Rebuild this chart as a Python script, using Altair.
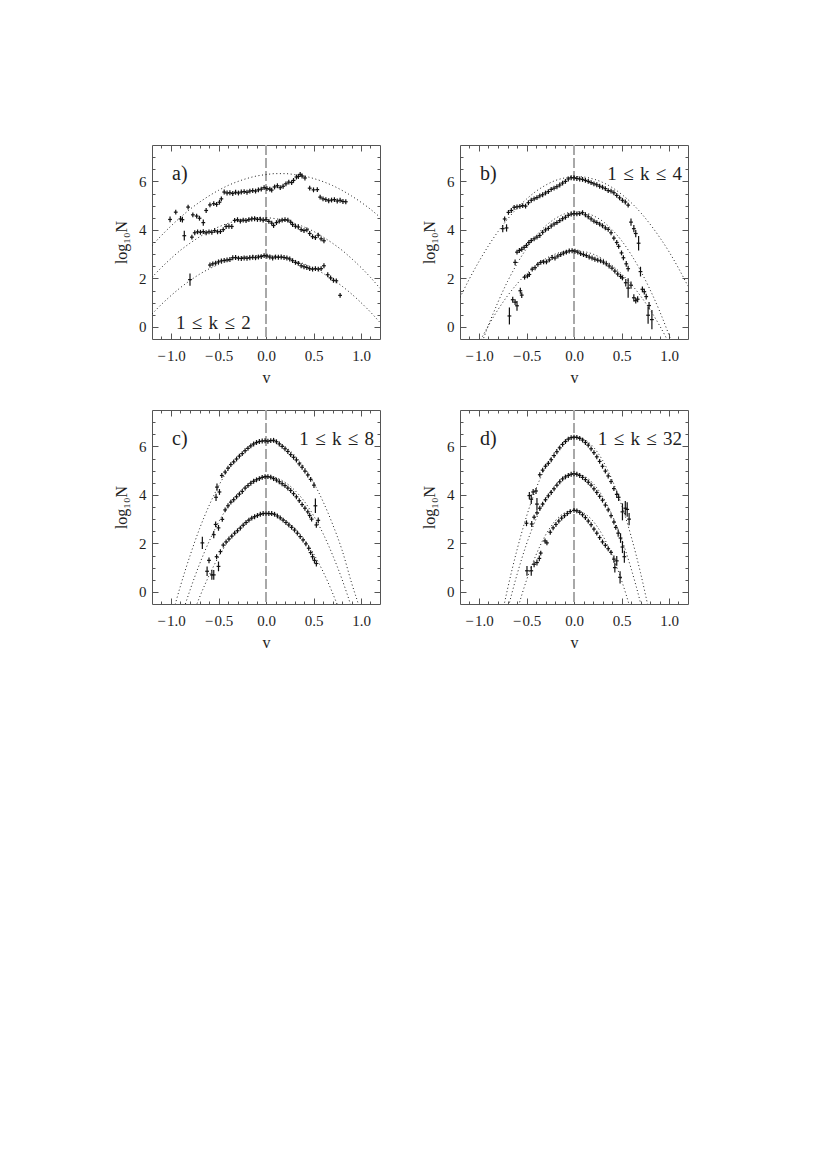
import altair as alt
import pandas as pd

# ---------------- axis ticks / labels ----------------
X_MAJOR = [-1.0, -0.5, 0.0, 0.5, 1.0]
X_MINOR = [-1.1, -0.9, -0.8, -0.7, -0.6, -0.4, -0.3, -0.2, -0.1,
           0.1, 0.2, 0.3, 0.4, 0.6, 0.7, 0.8, 0.9, 1.1]
Y_MAJOR = [0, 2, 4, 6]
Y_MINOR = [0.5, 1, 1.5, 2.5, 3, 3.5, 4.5, 5, 5.5, 6.5, 7]
ZERO_V = [0.0]

LETTERS = ["a)", "b)", "c)", "d)"]
KRANGES = ["1\u2004\u2264\u2004k\u2004\u2264\u20042",
           "1\u2004\u2264\u2004k\u2004\u2264\u20044",
           "1\u2004\u2264\u2004k\u2004\u2264\u20048",
           "1\u2004\u2264\u2004k\u2004\u2264\u200432"]

# ---------------- data points (v, log10N, error) ----------------
A_TOP = [(-1.01, 4.43, 0.12), (-0.95, 4.73), (-0.90, 4.45, 0.12), (-0.88, 4.42, 0.12),
         (-0.82, 4.94), (-0.77, 4.62), (-0.73, 4.57), (-0.70, 4.48), (-0.66, 4.30, 0.13),
         (-0.63, 4.80), (-0.59, 5.03), (-0.55, 5.08), (-0.52, 5.05), (-0.49, 5.14),
         (-0.47, 5.28), (-0.44, 5.56), (-0.41, 5.52), (-0.38, 5.53), (-0.35, 5.50),
         (-0.32, 5.55), (-0.29, 5.52), (-0.26, 5.56), (-0.23, 5.58), (-0.20, 5.55),
         (-0.17, 5.60), (-0.14, 5.62), (-0.11, 5.60), (-0.08, 5.65), (-0.05, 5.68),
         (-0.02, 5.74), (0.01, 5.70), (0.04, 5.68), (0.06, 5.64), (0.09, 5.77),
         (0.12, 5.82), (0.15, 5.74), (0.18, 5.80), (0.21, 5.90), (0.24, 5.97),
         (0.27, 5.95), (0.29, 6.04), (0.32, 6.18), (0.34, 6.20), (0.36, 6.29),
         (0.38, 6.22), (0.41, 6.14), (0.46, 5.72), (0.50, 5.65), (0.54, 5.66),
         (0.57, 5.35), (0.60, 5.28), (0.63, 5.25), (0.66, 5.20), (0.69, 5.23),
         (0.72, 5.25), (0.75, 5.19), (0.78, 5.22), (0.81, 5.17), (0.84, 5.16)]
A_MID = [(-0.86, 3.76, 0.2), (-0.78, 3.70), (-0.75, 3.88), (-0.72, 3.92), (-0.69, 3.90),
         (-0.66, 3.93), (-0.63, 3.88), (-0.60, 3.92), (-0.57, 3.90), (-0.54, 3.97),
         (-0.51, 3.92), (-0.48, 3.93), (-0.45, 4.01), (-0.42, 4.14), (-0.39, 4.15),
         (-0.36, 4.14), (-0.33, 4.39), (-0.30, 4.42), (-0.27, 4.36), (-0.24, 4.40),
         (-0.21, 4.38), (-0.18, 4.42), (-0.15, 4.45), (-0.12, 4.46), (-0.09, 4.43),
         (-0.06, 4.44), (-0.03, 4.40), (0.00, 4.42), (0.03, 4.35), (0.06, 4.28),
         (0.08, 4.18), (0.11, 4.30), (0.14, 4.36), (0.17, 4.40), (0.20, 4.42),
         (0.23, 4.40), (0.26, 4.32), (0.28, 4.22), (0.31, 4.15), (0.34, 4.12),
         (0.37, 4.01), (0.40, 3.97), (0.43, 4.00), (0.46, 3.85), (0.49, 3.72),
         (0.52, 3.68), (0.55, 3.78), (0.58, 3.63), (0.61, 3.55)]
A_BOT = [(-0.80, 1.95, 0.25), (-0.59, 2.55), (-0.56, 2.60), (-0.53, 2.63), (-0.50, 2.68),
         (-0.47, 2.72), (-0.44, 2.74), (-0.41, 2.76), (-0.38, 2.78), (-0.35, 2.85),
         (-0.32, 2.86), (-0.29, 2.83), (-0.26, 2.82), (-0.23, 2.84), (-0.20, 2.83),
         (-0.17, 2.85), (-0.14, 2.87), (-0.11, 2.85), (-0.08, 2.88), (-0.05, 2.90),
         (-0.02, 2.94), (0.01, 2.92), (0.04, 2.88), (0.07, 2.84), (0.10, 2.88),
         (0.13, 2.87), (0.16, 2.88), (0.19, 2.86), (0.22, 2.84), (0.25, 2.80),
         (0.28, 2.73), (0.31, 2.66), (0.34, 2.62), (0.37, 2.52), (0.40, 2.48),
         (0.43, 2.45), (0.46, 2.40), (0.49, 2.38), (0.52, 2.40), (0.55, 2.38),
         (0.58, 2.40), (0.61, 2.52), (0.65, 2.15), (0.68, 2.02), (0.71, 1.92),
         (0.74, 1.90), (0.78, 1.30)]

B_TOP = [(-0.75, 4.05, 0.15), (-0.71, 4.08, 0.15), (-0.73, 4.45), (-0.69, 4.72), (-0.66, 4.80),
         (-0.63, 4.93), (-0.60, 4.95), (-0.57, 4.97), (-0.54, 5.00), (-0.51, 4.98),
         (-0.48, 5.12), (-0.45, 5.22), (-0.42, 5.28), (-0.39, 5.33), (-0.36, 5.40),
         (-0.33, 5.45), (-0.30, 5.52), (-0.27, 5.58), (-0.24, 5.67), (-0.21, 5.72),
         (-0.18, 5.78), (-0.15, 5.85), (-0.12, 5.93), (-0.09, 6.00), (-0.06, 6.10),
         (-0.03, 6.15), (0.00, 6.15), (0.03, 6.12), (0.06, 6.10), (0.09, 6.08),
         (0.12, 6.04), (0.15, 6.00), (0.18, 5.95), (0.21, 5.90), (0.24, 5.86),
         (0.27, 5.80), (0.30, 5.76), (0.33, 5.70), (0.36, 5.62), (0.39, 5.60),
         (0.42, 5.53), (0.45, 5.42), (0.48, 5.32), (0.51, 5.22), (0.54, 5.15),
         (0.57, 5.02), (0.60, 4.32, 0.15), (0.63, 4.05, 0.15), (0.65, 3.85, 0.15),
         (0.68, 3.45, 0.3)]
B_MID = [(-0.62, 2.66, 0.12), (-0.60, 3.08), (-0.575, 3.15), (-0.55, 3.20), (-0.525, 3.28),
         (-0.50, 3.36), (-0.475, 3.48), (-0.45, 3.56), (-0.42, 3.63), (-0.39, 3.70),
         (-0.36, 3.77), (-0.33, 3.90), (-0.30, 4.00), (-0.27, 4.06), (-0.24, 4.16),
         (-0.21, 4.24), (-0.18, 4.30), (-0.15, 4.38), (-0.12, 4.46), (-0.09, 4.52),
         (-0.06, 4.60), (-0.03, 4.65), (0.00, 4.67), (0.03, 4.66), (0.06, 4.67),
         (0.09, 4.71), (0.12, 4.62), (0.15, 4.54), (0.18, 4.45), (0.21, 4.36),
         (0.24, 4.30), (0.27, 4.24), (0.30, 4.17), (0.33, 4.08), (0.36, 4.02),
         (0.39, 3.88), (0.42, 3.66), (0.45, 3.48), (0.47, 3.32), (0.50, 3.05),
         (0.52, 2.85), (0.55, 2.60, 0.12), (0.57, 2.40, 0.12), (0.70, 2.28, 0.2),
         (0.72, 1.55, 0.12), (0.76, 1.25, 0.12), (0.79, 0.88, 0.15)]
B_BOT = [(-0.68, 0.45, 0.35), (-0.645, 1.12, 0.12), (-0.62, 1.02, 0.12), (-0.60, 0.87, 0.2),
         (-0.565, 1.49, 0.12), (-0.55, 1.31, 0.12), (-0.52, 2.05), (-0.49, 2.10),
         (-0.47, 2.16), (-0.44, 2.38), (-0.41, 2.44), (-0.38, 2.58), (-0.35, 2.66),
         (-0.32, 2.68), (-0.29, 2.68), (-0.26, 2.76), (-0.23, 2.86), (-0.20, 2.84),
         (-0.17, 2.92), (-0.14, 2.98), (-0.11, 3.04), (-0.08, 3.08), (-0.05, 3.13),
         (-0.02, 3.14), (0.01, 3.12), (0.04, 3.08), (0.07, 3.02), (0.10, 2.98),
         (0.13, 2.94), (0.16, 2.88), (0.19, 2.84), (0.22, 2.79), (0.25, 2.75),
         (0.28, 2.72), (0.31, 2.67), (0.34, 2.60), (0.37, 2.51), (0.40, 2.42),
         (0.43, 2.30), (0.46, 2.18), (0.49, 2.08), (0.51, 2.02), (0.545, 1.82, 0.15),
         (0.57, 1.60, 0.4), (0.60, 1.72, 0.15), (0.63, 1.20, 0.15), (0.65, 1.08, 0.12),
         (0.67, 1.14, 0.12), (0.74, 1.45, 0.12), (0.78, 0.48, 0.35), (0.82, 0.30, 0.4)]

C_TOP = [(-0.526, 3.90, 0.15), (-0.516, 4.32, 0.15), (-0.49, 4.12, 0.12), (-0.465, 4.80),
         (-0.43, 4.94), (-0.40, 5.10), (-0.37, 5.25), (-0.34, 5.36), (-0.31, 5.48),
         (-0.28, 5.60), (-0.25, 5.70), (-0.22, 5.82), (-0.19, 5.92), (-0.16, 6.02),
         (-0.13, 6.10), (-0.10, 6.16), (-0.07, 6.20), (-0.04, 6.22), (-0.01, 6.23),
         (0.02, 6.21), (0.05, 6.24), (0.08, 6.25), (0.11, 6.19), (0.14, 6.10),
         (0.17, 6.00), (0.20, 5.90), (0.23, 5.79), (0.26, 5.66), (0.29, 5.55),
         (0.32, 5.44), (0.35, 5.28), (0.38, 5.14), (0.41, 4.98), (0.44, 4.82),
         (0.47, 4.64), (0.505, 4.40, 0.12)]
C_MID = [(-0.67, 2.02, 0.25), (-0.55, 2.36, 0.15), (-0.53, 2.78, 0.12), (-0.50, 2.64, 0.12),
         (-0.46, 2.99), (-0.43, 3.38), (-0.40, 3.55), (-0.37, 3.70), (-0.34, 3.80),
         (-0.31, 3.92), (-0.28, 4.03), (-0.25, 4.14), (-0.22, 4.28), (-0.19, 4.38),
         (-0.16, 4.48), (-0.13, 4.56), (-0.10, 4.62), (-0.07, 4.67), (-0.04, 4.72),
         (-0.01, 4.75), (0.02, 4.75), (0.05, 4.73), (0.08, 4.67), (0.11, 4.61),
         (0.14, 4.54), (0.17, 4.46), (0.20, 4.38), (0.23, 4.28), (0.26, 4.18),
         (0.29, 4.05), (0.32, 3.92), (0.35, 3.76), (0.38, 3.60), (0.41, 3.45),
         (0.44, 3.30), (0.46, 3.15), (0.48, 3.00), (0.52, 3.55, 0.3), (0.53, 2.76, 0.12),
         (0.55, 2.95, 0.12)]
C_BOT = [(-0.62, 0.85, 0.2), (-0.60, 1.30, 0.12), (-0.57, 0.70, 0.2), (-0.55, 0.70, 0.2),
         (-0.52, 1.45), (-0.50, 1.05, 0.2), (-0.48, 1.66), (-0.45, 1.93), (-0.42, 2.06),
         (-0.39, 2.18), (-0.36, 2.30), (-0.33, 2.42), (-0.30, 2.52), (-0.27, 2.63),
         (-0.24, 2.75), (-0.21, 2.86), (-0.18, 2.96), (-0.15, 3.04), (-0.12, 3.10),
         (-0.09, 3.15), (-0.06, 3.20), (-0.03, 3.23), (0.00, 3.24), (0.03, 3.23),
         (0.06, 3.23), (0.09, 3.20), (0.12, 3.13), (0.15, 3.05), (0.18, 2.96),
         (0.21, 2.86), (0.24, 2.76), (0.27, 2.66), (0.30, 2.55), (0.33, 2.42),
         (0.36, 2.28), (0.39, 2.14), (0.42, 1.98), (0.45, 1.80), (0.47, 1.62),
         (0.49, 1.45, 0.12), (0.51, 1.30, 0.12), (0.53, 1.17, 0.12)]

D_TOP = [(-0.47, 3.97, 0.15), (-0.45, 3.82, 0.2), (-0.43, 4.12, 0.12), (-0.40, 4.16, 0.12),
         (-0.39, 3.62, 0.25), (-0.36, 4.83), (-0.33, 5.02), (-0.30, 5.18), (-0.27, 5.30),
         (-0.24, 5.45), (-0.21, 5.62), (-0.18, 5.78), (-0.15, 5.94), (-0.12, 6.08),
         (-0.09, 6.20), (-0.06, 6.30), (-0.03, 6.36), (0.00, 6.38), (0.03, 6.37),
         (0.06, 6.33), (0.09, 6.26), (0.12, 6.16), (0.15, 6.05), (0.18, 5.90),
         (0.21, 5.74), (0.24, 5.57), (0.27, 5.38), (0.30, 5.18), (0.33, 4.98),
         (0.36, 4.78), (0.39, 4.55), (0.42, 4.26), (0.45, 4.02, 0.15), (0.47, 3.90, 0.15),
         (0.51, 3.30, 0.35), (0.54, 3.45, 0.3), (0.56, 3.40, 0.3), (0.58, 3.00, 0.25)]
D_MID = [(-0.50, 2.83, 0.12), (-0.445, 2.80, 0.12), (-0.42, 3.08), (-0.39, 3.26), (-0.36, 3.45),
         (-0.33, 3.62), (-0.30, 3.80), (-0.27, 3.96), (-0.24, 4.10), (-0.21, 4.25),
         (-0.18, 4.40), (-0.15, 4.54), (-0.12, 4.66), (-0.09, 4.74), (-0.06, 4.80),
         (-0.03, 4.85), (0.00, 4.87), (0.03, 4.85), (0.06, 4.80), (0.09, 4.72),
         (0.12, 4.63), (0.15, 4.52), (0.18, 4.40), (0.21, 4.25), (0.24, 4.10),
         (0.27, 3.94), (0.30, 3.78), (0.33, 3.58), (0.36, 3.38), (0.39, 3.14),
         (0.42, 2.88), (0.44, 2.66), (0.465, 2.42, 0.15), (0.49, 2.22, 0.2),
         (0.51, 1.85, 0.25), (0.53, 1.45, 0.25)]
D_BOT = [(-0.495, 0.87, 0.2), (-0.45, 0.87, 0.2), (-0.42, 1.14, 0.12), (-0.39, 1.21, 0.12),
         (-0.365, 1.38, 0.12), (-0.35, 1.60), (-0.305, 2.10), (-0.285, 2.02), (-0.25, 2.46),
         (-0.22, 2.64), (-0.19, 2.78), (-0.16, 2.92), (-0.13, 3.04), (-0.10, 3.14),
         (-0.07, 3.23), (-0.04, 3.31), (0.00, 3.36), (0.03, 3.34), (0.06, 3.28),
         (0.09, 3.18), (0.12, 3.06), (0.15, 2.92), (0.18, 2.77), (0.21, 2.59),
         (0.24, 2.42), (0.27, 2.24), (0.30, 2.06), (0.33, 1.92), (0.36, 1.78),
         (0.39, 1.63), (0.42, 1.35, 0.15), (0.43, 1.00, 0.2), (0.45, 1.28, 0.2),
         (0.485, 0.60, 0.25)]

# ---------------- fitted (dotted) curves, read at fixed v grids ----------------
GRID_12 = [-1.2, -1.1, -1.0, -0.9, -0.8, -0.7, -0.6, -0.5, -0.4, -0.3, -0.2, -0.1, 0.0,
           0.1, 0.2, 0.3, 0.4, 0.5, 0.6, 0.7, 0.8, 0.9, 1.0, 1.1, 1.2]
GRID_11 = [-1.1, -1.0, -0.9, -0.8, -0.7, -0.6, -0.5, -0.4, -0.3, -0.2, -0.1, 0.0,
           0.1, 0.2, 0.3, 0.4, 0.5, 0.6, 0.7, 0.8, 0.9, 1.0, 1.1]
GRID_10 = [-1.0, -0.9, -0.8, -0.7, -0.6, -0.5, -0.4, -0.3, -0.2, -0.1, 0.0,
           0.1, 0.2, 0.3, 0.4, 0.5, 0.6, 0.7, 0.8, 0.9, 1.0]
GRID_09 = [-0.9, -0.8, -0.7, -0.6, -0.5, -0.4, -0.3, -0.2, -0.1, 0.0,
           0.1, 0.2, 0.3, 0.4, 0.5, 0.6, 0.7, 0.8, 0.9]
GRID_08 = [-0.8, -0.7, -0.6, -0.5, -0.4, -0.3, -0.2, -0.1, 0.0,
           0.1, 0.2, 0.3, 0.4, 0.5, 0.6, 0.7, 0.8]
GRID_07 = [-0.7, -0.6, -0.5, -0.4, -0.3, -0.2, -0.1, 0.0, 0.1, 0.2, 0.3, 0.4, 0.5, 0.6, 0.7]

A_FIT_TOP = [3.35, 3.77, 4.16, 4.52, 4.85, 5.14, 5.40, 5.63, 5.83, 5.99, 6.12, 6.22, 6.28,
             6.32, 6.32, 6.28, 6.22, 6.12, 5.99, 5.83, 5.63, 5.40, 5.14, 4.85, 4.52]
A_FIT_MID = [2.04, 2.45, 2.82, 3.16, 3.45, 3.71, 3.94, 4.12, 4.27, 4.38, 4.46, 4.50, 4.50,
             4.46, 4.38, 4.27, 4.12, 3.94, 3.71, 3.45, 3.16, 2.82, 2.45, 2.04, 1.59]
A_FIT_BOT = [0.53, 0.93, 1.29, 1.62, 1.91, 2.17, 2.39, 2.57, 2.72, 2.83, 2.90, 2.94, 2.95,
             2.91, 2.85, 2.74, 2.60, 2.43, 2.21, 1.96, 1.68, 1.36, 1.00, 0.61, 0.18]
B_FIT_TOP = [1.21, 1.99, 2.70, 3.35, 3.93, 4.44, 4.89, 5.27, 5.59, 5.84, 6.03, 6.14, 6.20,
             6.18, 6.10, 5.96, 5.75, 5.47, 5.13, 4.72, 4.24, 3.70, 3.10, 2.42, 1.68]
B_FIT_MID = [-2.16, -0.99, 0.07, 1.02, 1.87, 2.60, 3.23, 3.75, 4.16, 4.46, 4.66, 4.75,
             4.72, 4.59, 4.36, 4.01, 3.56, 2.99, 2.32, 1.54, 0.66, -0.34, -1.44]
B_FIT_BOT = [-1.47, -0.67, 0.06, 0.71, 1.28, 1.77, 2.19, 2.54, 2.81, 3.00, 3.11, 3.15,
             3.11, 3.00, 2.81, 2.54, 2.19, 1.77, 1.28, 0.71, 0.06, -0.67, -1.47]
C_FIT_TOP = [-2.68, -1.15, 0.25, 1.49, 2.60, 3.55, 4.36, 5.03, 5.55, 5.93, 6.16, 6.25,
             6.19, 5.99, 5.64, 5.15, 4.51, 3.73, 2.80, 1.73, 0.38, -0.86, -2.36]
C_FIT_MID = [-2.49, -1.14, 0.07, 1.14, 2.07, 2.87, 3.52, 4.04, 4.41, 4.65, 4.75,
             4.71, 4.52, 4.20, 3.75, 3.15, 2.41, 1.53, 0.52, -0.64, -1.93]
C_FIT_BOT = [-2.45, -1.27, -0.23, 0.67, 1.44, 2.07, 2.56, 2.92, 3.14, 3.22,
             3.16, 2.97, 2.64, 2.18, 1.58, 0.84, -0.04, -1.06, -2.33]
D_FIT_TOP = [-1.76, 0.11, 1.73, 3.11, 4.25, 5.14, 5.79, 6.21, 6.38,
             6.30, 5.99, 5.43, 4.63, 3.59, 2.31, 0.79, -0.98]
D_FIT_MID = [-2.47, -0.77, 0.71, 1.97, 3.00, 3.80, 4.39, 4.74, 4.88,
             4.79, 4.48, 3.94, 3.18, 2.19, 0.98, -0.45, -2.11]
D_FIT_BOT = [-2.30, -0.80, 0.48, 1.52, 2.34, 2.92, 3.26, 3.38, 3.26, 2.92, 2.34, 1.52,
             0.48, -0.80, -2.30]

# ---------------- style ----------------
FONT = "Liberation Serif"
INK = "#1e1e1e"
MARK_INK = "#111111"
FRAME = "#555555"
ZERO_COLOR = "#a8a8a8"
ERR_MIN = 0.1
HALF_BIN = 0.02
W, H = 228, 194
SX, SY = 40, 22


def points_frame(series_list):
    rows = []
    for sid, series in enumerate(series_list):
        for p in series:
            v, y = p[0], p[1]
            e = p[2] if len(p) > 2 else ERR_MIN
            rows.append(dict(s=sid, v=v, y=y, lo=y - e, hi=y + e,
                             vl=v - HALF_BIN, vr=v + HALF_BIN))
    return pd.DataFrame(rows)


def fits_frame(fits):
    rows = []
    for cid, (grid, ys) in enumerate(fits):
        for v, y in zip(grid, ys):
            rows.append(dict(c=cid, v=v, y=y))
    return pd.DataFrame(rows)


XS = alt.Scale(domain=[-1.2, 1.2], nice=False, zero=False)
YS = alt.Scale(domain=[-0.5, 7.5], nice=False, zero=False)


def tick_axis(orient, values, size):
    return alt.Axis(orient=orient, values=values, labels=False, ticks=True,
                    tickSize=size, offset=-size, domain=False, grid=False,
                    title=None, tickColor=FRAME, tickWidth=1, minExtent=0)


def panel(idx, series, fits, k_left):
    pts = points_frame(series)
    fit = fits_frame(fits)

    zero = alt.Chart(pd.DataFrame({"v": ZERO_V})).mark_rule(
        color=ZERO_COLOR, strokeWidth=2, strokeDash=[10, 3]
    ).encode(x=alt.X("v:Q", scale=XS, axis=None))

    curves = alt.Chart(fit).mark_line(
        color=INK, strokeWidth=1, strokeDash=[1, 2.6], clip=True, interpolate="monotone"
    ).encode(
        x=alt.X("v:Q", scale=XS, axis=None),
        y=alt.Y("y:Q", scale=YS, axis=None),
        detail="c:N",
    )

    label_x = alt.Axis(orient="bottom", values=X_MAJOR, format=".1f", ticks=False,
                       tickSize=0, domain=False, grid=False, labelFont=FONT,
                       labelFontSize=15, labelColor=INK, labelPadding=9,
                       labelExpr="replace(datum.label, '\u2212', '\u2212\u200a')",
                       title="v", titleFont=FONT, titleFontSize=16,
                       titleFontWeight="normal", titleColor=INK, titlePadding=6)
    label_y = alt.Axis(orient="left", values=Y_MAJOR, format="d", ticks=False,
                       tickSize=0, domain=False, grid=False, labelFont=FONT,
                       labelFontSize=15, labelColor=INK, labelPadding=6,
                       title="log\u2081\u2080N", titleFont=FONT, titleFontSize=16,
                       titleFontWeight="normal", titleColor=INK, titlePadding=9)

    vbar = alt.Chart(pts).mark_rule(color=MARK_INK, strokeWidth=1.2, clip=True).encode(
        x=alt.X("v:Q", scale=XS, axis=label_x),
        y=alt.Y("lo:Q", scale=YS, axis=label_y),
        y2="hi:Q",
    )
    hbar = alt.Chart(pts).mark_rule(color=MARK_INK, strokeWidth=1.2, clip=True).encode(
        x=alt.X("vl:Q", scale=XS, axis=None),
        x2="vr:Q",
        y=alt.Y("y:Q", scale=YS, axis=None),
    )

    dummy = pd.DataFrame({"v": [0.0], "y": [0.0]})

    def tick_layer(xo, yo, xv, yv, size):
        return alt.Chart(dummy).mark_point(opacity=0, size=1).encode(
            x=alt.X("v:Q", scale=XS, axis=tick_axis(xo, xv, size)),
            y=alt.Y("y:Q", scale=YS, axis=tick_axis(yo, yv, size)),
        )

    ticks = [
        tick_layer("bottom", "left", X_MAJOR, Y_MAJOR, 6),
        tick_layer("bottom", "left", X_MINOR, Y_MINOR, 3),
        tick_layer("top", "right", X_MAJOR, Y_MAJOR, 6),
        tick_layer("top", "right", X_MINOR, Y_MINOR, 3),
    ]

    letter = alt.Chart(pd.DataFrame({"t": [LETTERS[idx]]})).mark_text(
        font=FONT, fontSize=20, align="left", baseline="middle", color=INK
    ).encode(text="t:N", x=alt.value(20), y=alt.value(29))

    if k_left:
        krange = alt.Chart(pd.DataFrame({"t": [KRANGES[idx]]})).mark_text(
            font=FONT, fontSize=19, align="left", baseline="middle", color=INK
        ).encode(text="t:N", x=alt.value(24), y=alt.value(178))
    else:
        krange = alt.Chart(pd.DataFrame({"t": [KRANGES[idx]]})).mark_text(
            font=FONT, fontSize=19, align="right", baseline="middle", color=INK
        ).encode(text="t:N", x=alt.value(222), y=alt.value(29))

    return alt.layer(zero, curves, vbar, hbar, *ticks, letter, krange).resolve_axis(
        x="independent", y="independent"
    ).properties(width=W, height=H)


pa = panel(0, [A_TOP, A_MID, A_BOT],
           [(GRID_12, A_FIT_TOP), (GRID_12, A_FIT_MID), (GRID_12, A_FIT_BOT)], True)
pb = panel(1, [B_TOP, B_MID, B_BOT],
           [(GRID_12, B_FIT_TOP), (GRID_11, B_FIT_MID), (GRID_11, B_FIT_BOT)], False)
pc = panel(2, [C_TOP, C_MID, C_BOT],
           [(GRID_11, C_FIT_TOP), (GRID_10, C_FIT_MID), (GRID_09, C_FIT_BOT)], False)
pd_ = panel(3, [D_TOP, D_MID, D_BOT],
            [(GRID_08, D_FIT_TOP), (GRID_08, D_FIT_MID), (GRID_07, D_FIT_BOT)], False)

chart = alt.vconcat(
    alt.hconcat(pa, pb, spacing=SX),
    alt.hconcat(pc, pd_, spacing=SX),
    spacing=SY,
).properties(
    padding={"left": 105, "top": 135, "right": 5, "bottom": 5},
    background="white",
).configure_view(stroke=FRAME, strokeWidth=1)

chart.save("out.html", embed_options={"renderer": "svg", "actions": False})
